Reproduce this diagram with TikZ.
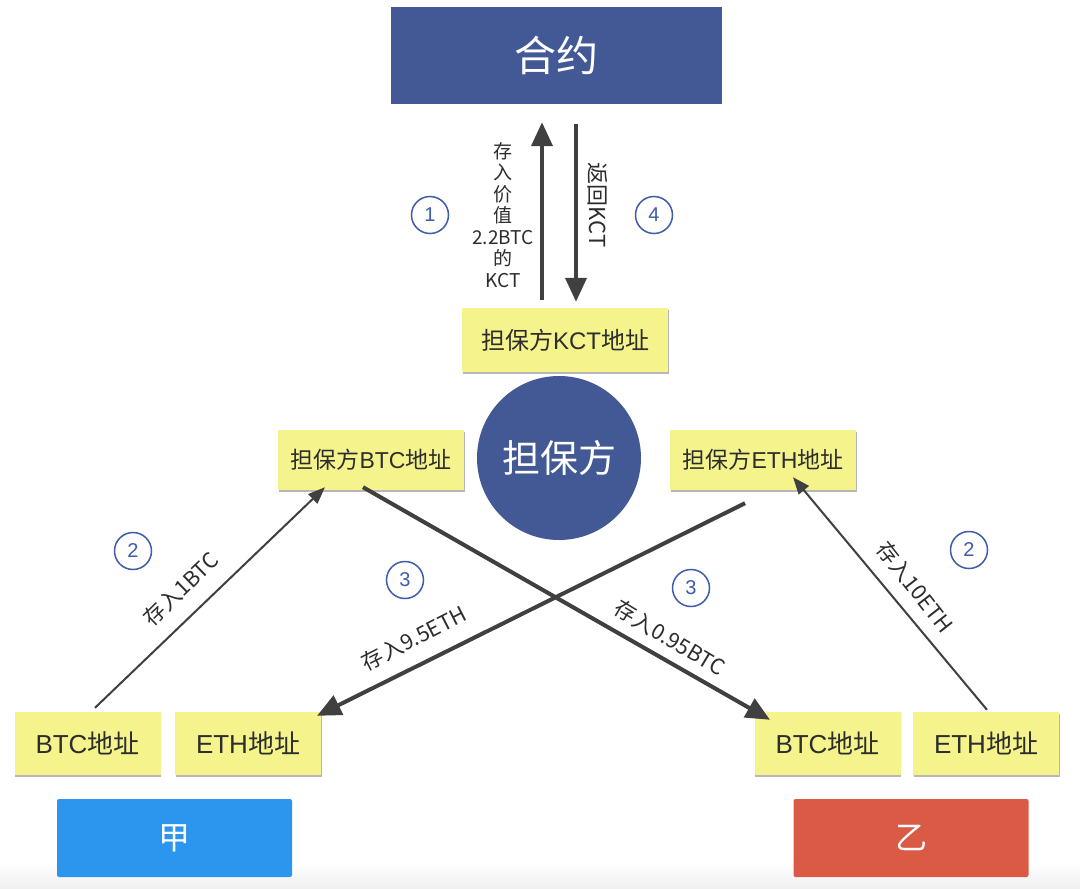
\documentclass[tikz,border=0pt]{standalone}
\usepackage{fontspec}
\setmainfont{Liberation Sans}
\newfontfamily\cjk{Noto Sans CJK SC}
\usetikzlibrary{arrows.meta,shadows}
\definecolor{navy}{RGB}{66,89,150}
\definecolor{yel}{RGB}{244,243,140}
\definecolor{arr}{RGB}{64,64,64}
\definecolor{numc}{RGB}{62,92,170}
\definecolor{jiac}{RGB}{44,150,238}
\definecolor{yic}{RGB}{218,90,70}
\definecolor{txt}{RGB}{45,45,45}
\begin{document}
\begin{tikzpicture}[x=1pt,y=-1pt,
  navybox/.style={fill=navy, text=white, inner sep=0pt},
  addr/.style={fill=yel, inner sep=0pt, text=txt,
    drop shadow={shadow xshift=0.8pt, shadow yshift=-1.5pt, fill=black!35, opacity=0.8}},
  smalladdr/.style={addr, minimum width=186pt, minimum height=60pt, font=\fontsize{23}{23}\selectfont},
  bigaddr/.style={addr, minimum width=146pt, minimum height=63pt, font=\fontsize{26}{26}\selectfont},
  party/.style={inner sep=0pt, text=white, rounded corners=2pt, minimum width=235pt, minimum height=78pt, font=\cjk\fontsize{32}{32}\selectfont},
  arrthick/.style={draw=arr, line width=4pt, -{Triangle[length=24pt,width=21pt]}},
  arrthin/.style={draw=arr, line width=2pt, -{Triangle[length=17pt,width=13pt]}},
  lab/.style={text=txt, inner sep=0pt, font=\cjk\fontsize{21.5}{21.5}\selectfont},
  num/.style={circle, draw=numc, line width=1.5pt, minimum size=37pt, inner sep=0pt, text=numc, font=\fontsize{20}{20}\selectfont}
]
\useasboundingbox (0,0) rectangle (1080,889);
\fill[white] (0,0) rectangle (1080,889);
\shade[top color=white, bottom color=black!6] (0,862) rectangle (1080,889);

% top
\node[navybox, minimum width=331pt, minimum height=97pt, font=\cjk\fontsize{42}{42}\selectfont] (contract) at (556.5,55.5) {合约};
\node[addr, minimum width=206pt, minimum height=64pt, font=\fontsize{24}{24}\selectfont] (kct) at (565,340) {{\cjk 担保方}KCT{\cjk 地址}};
\node[circle, fill=navy, text=white, minimum size=164pt, inner sep=0pt, font=\cjk\fontsize{38}{38}\selectfont] (g) at (559,458) {担保方};

% guarantor addresses
\node[smalladdr] (dbtc) at (371,460) {{\cjk 担保方}BTC{\cjk 地址}};
\node[smalladdr] (deth) at (763,460) {{\cjk 担保方}ETH{\cjk 地址}};

% party addresses
\node[bigaddr] (btcA) at (87.5,743.5) {BTC{\cjk 地址}};
\node[bigaddr] (ethA) at (248,743.5) {ETH{\cjk 地址}};
\node[bigaddr] (btcB) at (827.5,743.5) {BTC{\cjk 地址}};
\node[bigaddr] (ethB) at (986,743.5) {ETH{\cjk 地址}};

% parties
\node[party, fill=jiac] (jia) at (174.5,838) {甲};
\node[party, fill=yic] (yi) at (911,838) {乙};

% KCT arrows
\draw[arrthick] ([xshift=-23pt,yshift=8pt]kct.north) -- ([xshift=-14.5pt,yshift=-18pt]contract.south);
\draw[arrthick] ([xshift=19.5pt,yshift=-20pt]contract.south) -- ([xshift=11pt,yshift=6pt]kct.north);
\node[lab, align=center, font=\cjk\fontsize{19}{21.5}\selectfont] (l1) at (503,215)
  {存\\入\\价\\值\\2.2BTC\\的\\KCT};
\node[lab, rotate=-90, font=\cjk\fontsize{22}{22}\selectfont] (l4) at (598,205) {返回KCT};
\node[num] (n1) at (430,215) {1};
\node[num] (n4) at (654,215) {4};

% deposits
\draw[arrthin] ([xshift=7.5pt,yshift=4pt]btcA.north) -- ([xshift=-46pt,yshift=3pt]dbtc.south);
\draw[arrthin] ([xshift=1pt,yshift=2pt]ethB.north) -- ([xshift=30pt,yshift=13pt]deth.south);
\draw[arrthick] ([xshift=-8pt,yshift=3pt]dbtc.south) -- ([xshift=-57.5pt,yshift=-8pt]btcB.north);
\draw[arrthick] ([xshift=-18pt,yshift=-13pt]deth.south) -- ([xshift=69pt,yshift=-4pt]ethA.north);

\node[lab, rotate=44] (l2a) at (181,589) {存入1BTC};
\node[lab, rotate=27] (l3a) at (414,638) {存入9.5ETH};
\node[lab, rotate=-31] (l3b) at (670,638) {存入0.95BTC};
\node[lab, rotate=-52] (l2b) at (915,587) {存入10ETH};

\node[num] (n2a) at (133,551) {2};
\node[num] (n3a) at (405,580) {3};
\node[num] (n3b) at (691,588) {3};
\node[num] (n2b) at (969,550) {2};
\end{tikzpicture}
\end{document}
